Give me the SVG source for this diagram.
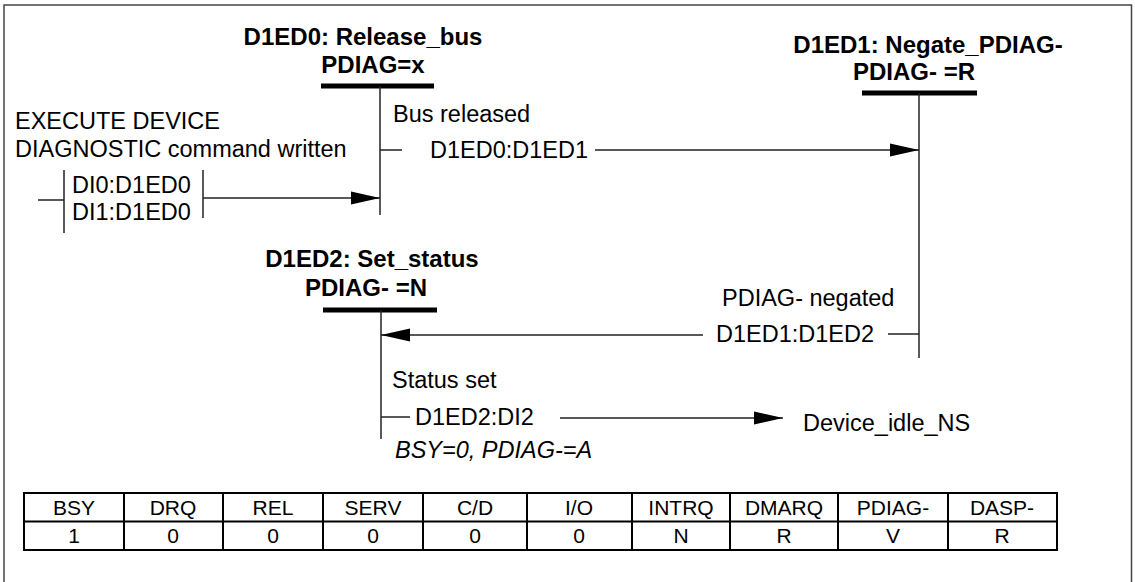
<svg xmlns="http://www.w3.org/2000/svg" width="1135" height="582" viewBox="0 0 1135 582">
<defs>
<style>
.t{font-family:"Liberation Sans",Arial,sans-serif;font-size:23.5px;fill:#000}
.b{font-weight:bold;font-size:24px}
.i{font-style:italic}
.m{text-anchor:middle}
.tb{font-family:"Liberation Sans",Arial,sans-serif;font-size:21px;fill:#000;text-anchor:middle}
.ln{stroke:#222;stroke-width:1.5;fill:none}
.bar{stroke:#000;stroke-width:5}
.grid{stroke:#000;stroke-width:2;fill:none}
</style>
<marker id="ah" markerUnits="userSpaceOnUse" markerWidth="29" markerHeight="14" refX="29" refY="7" orient="auto">
<path d="M0,0.5 L29,7 L0,13.5 z" fill="#000"/>
</marker>
</defs>
<rect x="0" y="0" width="1135" height="582" fill="#fff"/>
<path d="M4,585V5H1131.5V585" fill="none" stroke="#444" stroke-width="1.5"/>

<g id="start">
<text class="t" x="15" y="129">EXECUTE DEVICE</text>
<text class="t" x="15" y="157">DIAGNOSTIC command written</text>
</g>

<g id="D1ED0">
<text class="t b m" x="363" y="45">D1ED0: Release_bus</text>
<text class="t b m" x="373" y="73">PDIAG=x</text>
<line class="bar" x1="321" y1="86" x2="434" y2="86"/>
<line class="ln" x1="380" y1="86" x2="380" y2="215"/>
</g>

<g id="D1ED1">
<text class="t b m" x="928" y="53">D1ED1: Negate_PDIAG-</text>
<text class="t b m" x="914" y="80">PDIAG- =R</text>
<line class="bar" x1="862" y1="93" x2="977" y2="93"/>
<line class="ln" x1="919" y1="93" x2="919" y2="358"/>
</g>

<g id="D1ED2">
<text class="t b m" x="372" y="267">D1ED2: Set_status</text>
<text class="t b m" x="366" y="296">PDIAG- =N</text>
<line class="bar" x1="323" y1="310" x2="437" y2="310"/>
<line class="ln" x1="381" y1="310" x2="381" y2="439"/>
</g>

<g id="Device_idle_NS">
<text class="t" x="803" y="431">Device_idle_NS</text>
</g>

<g id="connectors">
<line class="ln" x1="38" y1="200" x2="64" y2="200"/>
<line class="ln" x1="64" y1="170" x2="64" y2="233"/>
<text class="t" x="72" y="193">DI0:D1ED0</text>
<text class="t" x="72" y="220">DI1:D1ED0</text>
<line class="ln" x1="203" y1="170" x2="203" y2="218"/>
<line class="ln" x1="203" y1="198" x2="380" y2="198" marker-end="url(#ah)"/>

<text class="t" x="393" y="122">Bus released</text>
<line class="ln" x1="380" y1="150" x2="402" y2="150"/>
<text class="t" x="430" y="158">D1ED0:D1ED1</text>
<line class="ln" x1="595" y1="150" x2="919" y2="150" marker-end="url(#ah)"/>

<text class="t" x="722" y="306">PDIAG- negated</text>
<line class="ln" x1="888" y1="334" x2="919" y2="334"/>
<text class="t" x="716" y="342">D1ED1:D1ED2</text>
<line class="ln" x1="703" y1="335" x2="381" y2="335" marker-end="url(#ah)"/>

<text class="t" x="392" y="388">Status set</text>
<line class="ln" x1="381" y1="417" x2="410" y2="417"/>
<text class="t" x="415" y="425">D1ED2:DI2</text>
<line class="ln" x1="560" y1="418" x2="783" y2="418" marker-end="url(#ah)"/>
<text class="t i" x="395" y="458">BSY=0, PDIAG-=A</text>
</g>

<g id="table">
<rect class="grid" x="24" y="493" width="1033" height="57"/>
<line class="grid" x1="24" y1="521.5" x2="1057" y2="521.5"/>
<path class="grid" d="M124,493V550M223,493V550M323,493V550M423,493V550M527,493V550M632,493V550M730,493V550M838,493V550M948,493V550"/>
<text class="tb" x="74" y="514.5">BSY</text>
<text class="tb" x="173" y="514.5">DRQ</text>
<text class="tb" x="273" y="514.5">REL</text>
<text class="tb" x="373" y="514.5">SERV</text>
<text class="tb" x="475" y="514.5">C/D</text>
<text class="tb" x="579" y="514.5">I/O</text>
<text class="tb" x="681" y="514.5">INTRQ</text>
<text class="tb" x="784" y="514.5">DMARQ</text>
<text class="tb" x="893" y="514.5">PDIAG-</text>
<text class="tb" x="1002" y="514.5">DASP-</text>
<text class="tb" x="74" y="543">1</text>
<text class="tb" x="173" y="543">0</text>
<text class="tb" x="273" y="543">0</text>
<text class="tb" x="373" y="543">0</text>
<text class="tb" x="475" y="543">0</text>
<text class="tb" x="579" y="543">0</text>
<text class="tb" x="681" y="543">N</text>
<text class="tb" x="784" y="543">R</text>
<text class="tb" x="893" y="543">V</text>
<text class="tb" x="1002" y="543">R</text>
</g>
</svg>
